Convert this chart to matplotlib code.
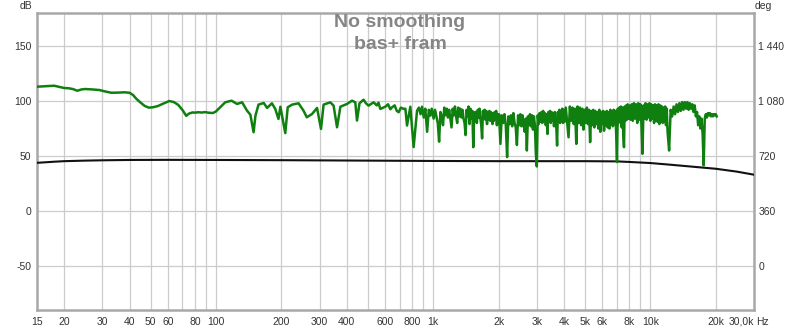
import matplotlib
matplotlib.use("Agg")
import matplotlib.pyplot as plt
from matplotlib.ticker import FixedLocator, NullFormatter

# ---------------- data ----------------
# Green trace: smooth low-frequency part (15 Hz - 1 kHz)
low_freq = [
    15, 16, 17, 18, 19, 20, 21, 22, 23, 24, 25, 27, 29, 31, 33, 35, 38, 40, 41.5, 43, 45, 47, 49, 51, 54, 57, 61,
    64, 67, 70, 73, 75, 78, 80, 83, 86, 89, 93, 97,
    100, 104.6, 110.3, 118, 125, 132, 139, 144, 149, 152, 157, 166, 172, 181, 187.5, 194, 198, 208.5, 214, 224,
    240, 253, 262, 277, 292, 304.5, 313, 336, 348, 361, 374, 401, 423, 438, 446, 458, 478, 490, 504, 532, 550,
    560, 571, 602, 620, 635, 647, 665, 680, 694, 710, 731, 745, 758, 785, 813, 843, 860, 875, 889, 905, 920,
    938, 955, 971, 985,
]
low_db = [
    113.0, 113.3, 113.6, 113.9, 112.8, 111.8, 111.6, 110.8, 109.3, 110.5, 110.9, 110.5, 110.0, 108.6, 107.5,
    107.6, 107.9, 107.5, 105.5, 102.0, 98.5, 95.5, 94.0, 94.2, 95.4, 97.5, 100.0,
    99.0, 96.5, 92.0, 86.5, 88.5, 89.6, 89.4, 89.8, 89.5, 89.9, 89.3, 89.1,
    90.5, 94.3, 98.8, 100.3, 97.3, 98.8, 91.2, 87.6, 71.6, 86.7, 96.7, 98.2, 93.7, 97.9, 92.8, 83.7, 94.8, 70.8,
    94.3, 96.7,
    97.9, 91.2, 85.2, 88.2, 93.7, 74.6, 96.7, 98.8, 95.8, 76.1, 94.8, 97.3, 100.3, 98.8, 82.2, 97.9, 101.2, 98.0,
    95.8, 98.8, 96.0, 98.5, 92.8, 94.8, 97.0, 92.5, 94.3, 96.0, 91.0, 89.8, 94.0, 92.8, 93.0, 77.7, 94.8, 58.1,
    91.2, 94.0, 88.0, 94.8, 85.0, 93.0, 72.0, 92.0, 86.7, 93.0,
]

# 1 kHz - 2 kHz
band1_freq = [
    1005, 1020, 1035, 1050, 1065, 1080, 1095, 1110, 1125, 1140, 1155, 1170, 1185, 1200, 1215, 1230, 1245, 1260,
    1275, 1290, 1305, 1320, 1335, 1350, 1365, 1380, 1395, 1410, 1425, 1440, 1455, 1470, 1485, 1500, 1515, 1530,
    1545, 1560, 1575, 1590, 1605, 1620, 1635, 1650, 1665, 1680, 1695, 1710, 1725, 1740, 1755, 1770, 1785, 1800,
    1815, 1830, 1845, 1860, 1875, 1890, 1905, 1920, 1935, 1950, 1965, 1980, 1995,
]
band1_db = [
    84, 92, 86, 80, 63, 90, 86, 78, 94, 87, 93, 85, 92, 84, 76, 93, 87, 95,
    86, 80, 94, 86, 93, 85, 92, 84, 80, 69, 92, 86, 95, 79, 93, 84, 91, 58,
    88, 90, 84, 80, 92, 85, 93, 84, 78, 66, 91, 84, 92, 83, 91, 79, 90, 83,
    91, 82, 90, 84, 79, 89, 82, 90, 83, 91, 78, 88, 83,
]

# 2 kHz - 4 kHz
band2_freq = [
    2010, 2040, 2070, 2100, 2130, 2160, 2190, 2220, 2250, 2280, 2310, 2340, 2370, 2400, 2430, 2460, 2490, 2520,
    2550, 2580, 2610, 2640, 2670, 2700, 2730, 2760, 2790, 2820, 2850, 2880, 2910, 2940, 2970, 3000, 3030, 3060,
    3090, 3120, 3150, 3180, 3210, 3240, 3270, 3300, 3330, 3360, 3390, 3420, 3450, 3480, 3510, 3540, 3570, 3600,
    3630, 3660, 3690, 3720, 3750, 3780, 3810, 3840, 3870, 3900, 3930, 3960, 3990,
]
band2_db = [
    88, 61, 87, 80, 88, 78, 49, 86, 79, 87, 77, 89, 80, 76, 60, 87, 78, 88,
    77, 87, 79, 72, 84, 55, 86, 78, 88, 77, 87, 74, 86, 78, 52, 40.5, 87, 79,
    89, 81, 90, 80, 91, 82, 89, 78, 88, 70, 90, 81, 91, 80, 90, 82, 89, 77,
    90, 81, 76, 59.5, 90, 82, 92, 80, 91, 82, 93, 80, 92,
]

# 4 kHz - 8 kHz
band3_freq = [
    4020, 4080, 4140, 4200, 4260, 4320, 4380, 4440, 4500, 4560, 4620, 4680, 4740, 4800, 4860, 4920, 4980, 5040,
    5100, 5160, 5220, 5280, 5340, 5400, 5460, 5520, 5580, 5640, 5700, 5760, 5820, 5880, 5940, 6000, 6060, 6120,
    6180, 6240, 6300, 6360, 6420, 6480, 6540, 6600, 6660, 6720, 6780, 6840, 6900, 6960, 7020, 7080, 7140, 7200,
    7260, 7320, 7380, 7440, 7500, 7560, 7620, 7680, 7740, 7800, 7860, 7920, 7980,
]
band3_db = [
    81, 94, 80, 67, 95, 82, 94, 79, 93, 61, 95, 80, 94, 78, 93, 74, 92, 80,
    94, 79, 92, 62.6, 91, 78, 92, 76, 91, 79, 90, 75, 92, 72, 90, 79, 91, 73,
    90, 78, 91, 76, 90, 75, 92, 79, 91, 77, 92, 79, 91, 70, 44.5, 93, 80, 94,
    82, 95, 76, 94, 70, 58, 95, 82, 96, 83, 97, 84, 96,
]

# 8 kHz - 12 kHz
band4_freq = [
    8100, 8200, 8300, 8400, 8500, 8600, 8700, 8800, 8900, 9000, 9100, 9200, 9300, 9400, 9500, 9600, 9700, 9800,
    9900, 10000, 10100, 10200, 10300, 10400, 10500, 10600, 10700, 10800, 10900, 11000, 11100, 11200, 11300,
    11400, 11500, 11600, 11700, 11800, 11900, 12000,
]
band4_db = [
    83, 97, 82, 98, 84, 97, 80, 98, 83, 97, 78, 52, 96, 84, 98, 83, 97, 85,
    98, 82, 97, 84, 96, 80, 97, 82, 96, 81, 97, 79, 96, 82, 95,
    80, 94, 81, 95, 78, 93, 72,
]

# 12 kHz - 20 kHz
band5_freq = [
    12200, 12400, 12600, 12800, 13000, 13200, 13400, 13600, 13800, 14000, 14200, 14400, 14600, 14800, 15000,
    15200, 15400, 15600, 15800, 16000, 16200, 16400, 16600, 16800, 17000, 17200, 17400, 17600, 17800, 18000,
    18200, 18400, 18600, 18800, 19000, 19200, 19400, 19600, 19800, 20000, 20200,
]
band5_db = [
    55, 92, 86, 95, 88, 97, 90, 98, 91, 99, 92, 99, 93, 99, 92,
    98, 93, 97, 90, 96, 86, 90, 78, 86, 75, 84, 70, 41.4, 84, 88,
    85, 89, 87, 89, 86, 88, 86, 88, 87, 88, 86,
]

black_freq = [15, 18, 20, 25, 30, 40, 60, 100, 200, 500, 1000, 2000, 5000, 7000, 8000, 10000, 12000, 15000,
              20000, 25000, 30000]
black_db = [43.8, 44.8, 45.3, 45.8, 46.1, 46.4, 46.5, 46.4, 46.2, 45.8, 45.5, 45.3, 45.3, 45.1, 44.6, 43.6,
            42.3, 40.6, 38.4, 35.8, 33.0]

x_ticks = [15, 20, 30, 40, 50, 60, 80, 100, 200, 300, 400, 600, 800, 1000, 2000, 3000, 4000, 5000, 6000,
           8000, 10000, 20000, 30000]
x_labels = ["15", "20", "30", "40", "50", "60", "80", "100", "200", "300", "400", "600", "800", "1k", "2k",
            "3k", "4k", "5k", "6k", "8k", "10k", "20k", "30,0k"]
x_grid = [20, 30, 40, 50, 60, 70, 80, 90, 100, 200, 300, 400, 500, 600, 700, 800, 900, 1000, 2000, 3000,
          4000, 5000, 6000, 7000, 8000, 9000, 10000, 20000]
y_ticks = [-50, 0, 50, 100, 150]
deg_ticks = [0, 360, 720, 1080, 1440]
deg_labels = ["0", "360", "720", "1 080", "1 440"]
title_text = "No smoothing\nbas+ fram"

green_freq = low_freq + band1_freq + band2_freq + band3_freq + band4_freq + band5_freq
green_db = low_db + band1_db + band2_db + band3_db + band4_db + band5_db

# ---------------- figure ----------------
W, H = 800, 331
fig = plt.figure(figsize=(W / 100, H / 100), dpi=100)
L, R, T, B = 37, 754, 13, 310
ax = fig.add_axes([L / W, 1 - B / H, (R - L) / W, (B - T) / H])

tick_font = dict(family=["Liberation Sans", "DejaVu Sans"], size=7.5)
ax.set_xscale("log")
ax.set_xlim(15, 30000)
ax.set_ylim(-90, 180)

ax.xaxis.set_major_locator(FixedLocator(x_ticks))
ax.set_xticklabels(x_labels, **tick_font, color="#333333")
ax.xaxis.set_minor_locator(FixedLocator([]))
ax.xaxis.set_minor_formatter(NullFormatter())
ax.set_yticks(y_ticks)
ax.set_yticklabels([str(v) for v in y_ticks], **tick_font, color="#333333")
ax.tick_params(axis="x", length=0, pad=5)
ax.tick_params(axis="y", length=0, pad=4)
lbls = ax.get_xticklabels()
lbls[-1].set_ha("right")

for f in x_grid:
    ax.axvline(f, color="#cccccc", lw=0.9, zorder=0)
for v in y_ticks:
    ax.axhline(v, color="#cccccc", lw=0.9, zorder=0)

ax.plot(black_freq, black_db, color="#111111", lw=1.5, zorder=3)
ax.plot(green_freq, green_db, color="#0f800f", lw=1.8, zorder=4, solid_joinstyle="round")

for s in ax.spines.values():
    s.set_color("#a8a8a8")
    s.set_linewidth(1.8)

ax2 = ax.twinx()
ax2.set_ylim((-90 + 50) * 7.2, (180 + 50) * 7.2)
ax2.set_yticks(deg_ticks)
ax2.set_yticklabels(deg_labels, **tick_font, color="#333333")
ax2.tick_params(axis="y", length=0, pad=3)
for s in ax2.spines.values():
    s.set_visible(False)

ax.text((400 - L) / (R - L), 1 - 1.0 / (B - T), title_text, transform=ax.transAxes, ha="center", va="top",
        fontsize=14, fontweight="bold", color="#858585", family=["Liberation Sans", "DejaVu Sans"],
        linespacing=1.35, zorder=5)

fig.text(26 / W, 1 - 6 / H, "dB", ha="center", va="center", **tick_font, color="#333333")
fig.text(763 / W, 1 - 6 / H, "deg", ha="center", va="center", **tick_font, color="#333333")
fig.text(756 / W, 1 - 322 / H, "Hz", ha="left", va="center", **tick_font, color="#333333")

fig.savefig("out.png", dpi=100, facecolor="white")
